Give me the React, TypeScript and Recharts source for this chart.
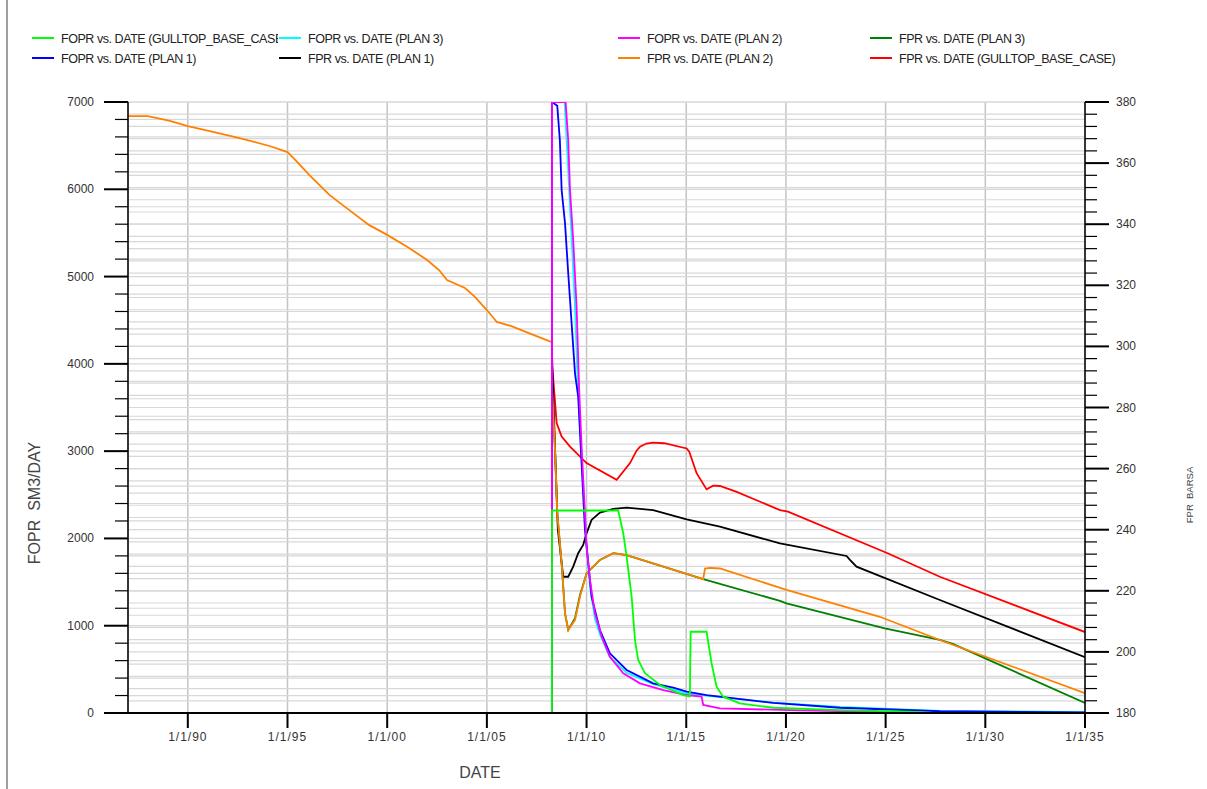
import React from 'react';
import { LineChart, Line, XAxis, YAxis, CartesianGrid } from 'recharts';

type Pt = [number, number];

// time in decimal years, FPR in BARSA (right axis), FOPR in SM3/DAY (left axis)
const X_TICKS = [1990, 1995, 2000, 2005, 2010, 2015, 2020, 2025, 2030, 2035];
const LEFT_TICKS = Array.from({ length: 36 }, (_, i) => i * 200);
const RIGHT_TICKS = Array.from({ length: 51 }, (_, i) => 180 + i * 4);

// history, same for every case up to the start of the forecast (only drawn once, orange on top in the plot)
const FPR_HISTORY: Pt[] = [
  [1987.0, 375.4], [1988.0, 375.4], [1989.1, 373.8], [1990.0, 372.1], [1991.1, 370.5],
  [1992.6, 368.2], [1994.1, 365.6], [1995.0, 363.6], [1995.4, 361.0], [1996.1, 356.1],
  [1997.1, 349.6], [1998.1, 344.6], [1999.1, 339.7], [2000.0, 336.5], [2001.1, 332.2],
  [2002.0, 328.3], [2002.6, 325.0], [2003.0, 321.7], [2003.9, 319.1], [2004.4, 316.2],
  [2005.0, 311.9], [2005.5, 308.0], [2006.2, 306.7], [2007.2, 304.1], [2008.26, 301.4],
];
const FORECAST_START: Pt = [2008.26, 301.4];

const FPR_BASE: Pt[] = [
  [2008.28, 293.5], [2008.5, 274.9], [2008.75, 270.5], [2009.17, 267.2], [2010.0, 261.8],
  [2011.51, 256.3], [2012.18, 261.8], [2012.5, 265.8], [2012.68, 267.2], [2013.0, 268.2],
  [2013.33, 268.5], [2013.9, 268.3], [2015.02, 266.6], [2015.15, 265.5], [2015.52, 258.5],
  [2016.02, 253.2], [2016.35, 254.4], [2016.69, 254.3], [2017.53, 252.4], [2019.7, 246.4],
  [2020.1, 245.9], [2025.1, 232.3], [2027.72, 224.6], [2035.0, 206.5],
];

const FPR_PLAN1: Pt[] = [
  [2008.28, 293.5], [2008.56, 240.0], [2008.83, 224.6], [2009.08, 224.6], [2009.33, 227.9],
  [2009.58, 232.3], [2009.83, 235.0], [2010.0, 238.8], [2010.25, 243.2], [2010.67, 245.6],
  [2011.34, 246.8], [2012.01, 247.2], [2013.34, 246.4], [2015.02, 243.4], [2016.69, 241.0],
  [2019.7, 235.5], [2023.04, 231.4], [2023.21, 230.1], [2023.54, 227.9], [2024.38, 225.7],
  [2027.72, 217.0], [2035.0, 198.3],
];

const FPR_PLAN2: Pt[] = [
  [2008.27, 285.7], [2008.41, 267.2], [2008.53, 245.4], [2008.75, 229.0], [2008.92, 212.6],
  [2009.08, 207.2], [2009.42, 210.4], [2009.67, 218.1], [2010.0, 225.7], [2010.67, 230.1],
  [2011.34, 232.3], [2012.01, 231.7], [2015.85, 223.8], [2015.94, 227.3], [2016.19, 227.5],
  [2016.69, 227.3], [2020.03, 220.3], [2024.71, 211.5], [2027.72, 203.9], [2035.0, 186.5],
];

const FPR_PLAN3: Pt[] = [
  [2008.27, 285.7], [2008.41, 267.2], [2008.53, 245.4], [2008.75, 229.0], [2008.92, 212.6],
  [2009.08, 207.2], [2009.42, 211.0], [2009.67, 218.6], [2010.0, 225.7], [2010.67, 230.1],
  [2011.34, 232.3], [2012.01, 231.7], [2015.85, 223.8], [2019.7, 216.7], [2020.03, 215.9],
  [2024.96, 207.7], [2027.72, 203.9], [2028.37, 202.6], [2035.0, 183.3],
];

const FOPR_BASE: Pt[] = [
  [1987.0, 0], [2008.26, 0], [2008.27, 2320], [2011.59, 2320], [2011.84, 2059],
  [2012.01, 1791], [2012.26, 1333], [2012.43, 836], [2012.59, 607], [2012.93, 455],
  [2013.68, 321], [2014.85, 206], [2015.18, 190], [2015.22, 931], [2016.02, 931],
  [2016.27, 569], [2016.52, 301], [2016.85, 187], [2017.69, 111], [2019.36, 60],
  [2022.71, 34], [2026.05, 15], [2027.5, 0], [2035.0, 0],
];

const FOPR_PLAN1: Pt[] = [
  [1987.0, 0], [2008.26, 0], [2008.27, 7000], [2008.53, 6958], [2008.66, 6565],
  [2008.75, 5992], [2008.92, 5610], [2009.08, 5038], [2009.25, 4465], [2009.42, 3892],
  [2009.58, 3624], [2009.75, 2861], [2009.92, 2097], [2010.09, 1715], [2010.25, 1333],
  [2010.67, 951], [2011.17, 684], [2012.01, 493], [2013.34, 340], [2014.35, 290],
  [2015.02, 245], [2016.02, 206], [2019.36, 115], [2022.71, 60], [2027.72, 20], [2035.0, 8],
];

const FOPR_PLAN2: Pt[] = [
  [1987.0, 0], [2008.26, 0], [2008.27, 7000], [2008.95, 7000], [2009.08, 6565],
  [2009.17, 5992], [2009.33, 5419], [2009.5, 4655], [2009.63, 3700], [2009.75, 3051],
  [2009.92, 2288], [2010.0, 1905], [2010.17, 1524], [2010.42, 1142], [2010.76, 874],
  [2011.17, 645], [2011.84, 455], [2012.68, 340], [2013.85, 263], [2015.02, 206],
  [2015.77, 187], [2015.85, 92], [2016.69, 54], [2020.7, 29], [2027.47, 0], [2035.0, 0],
];

const FOPR_PLAN3: Pt[] = [
  [1987.0, 0], [2008.26, 0], [2008.27, 7000], [2008.9, 7000], [2009.04, 6400],
  [2009.17, 5801], [2009.3, 5228], [2009.42, 4655], [2009.54, 3892], [2009.67, 3300],
  [2009.83, 2600], [2010.0, 1900], [2010.17, 1450], [2010.42, 1080], [2010.67, 900],
  [2011.17, 640], [2012.01, 460], [2013.34, 330], [2015.02, 225], [2016.02, 200],
  [2019.36, 120], [2022.71, 70], [2027.72, 25], [2035.0, 10],
];

const SERIES = [
  { key: 'fpr_base', label: 'FPR vs. DATE (GULLTOP_BASE_CASE)', color: '#ff0000', axis: 'right', pts: [FORECAST_START, ...FPR_BASE] },
  { key: 'fpr_p1', label: 'FPR vs. DATE (PLAN 1)', color: '#000000', axis: 'right', pts: [FORECAST_START, ...FPR_PLAN1] },
  { key: 'fpr_p3', label: 'FPR vs. DATE (PLAN 3)', color: '#008000', axis: 'right', pts: [FORECAST_START, ...FPR_PLAN3] },
  { key: 'fpr_p2', label: 'FPR vs. DATE (PLAN 2)', color: '#ff8000', axis: 'right', pts: [...FPR_HISTORY, ...FPR_PLAN2] },
  { key: 'fopr_p3', label: 'FOPR vs. DATE (PLAN 3)', color: '#00ffff', axis: 'left', pts: FOPR_PLAN3 },
  { key: 'fopr_p1', label: 'FOPR vs. DATE (PLAN 1)', color: '#0000ff', axis: 'left', pts: FOPR_PLAN1 },
  { key: 'fopr_p2', label: 'FOPR vs. DATE (PLAN 2)', color: '#ff00ff', axis: 'left', pts: FOPR_PLAN2 },
  { key: 'fopr_base', label: 'FOPR vs. DATE (GULLTOP_BASE_CASE)', color: '#00ff00', axis: 'left', pts: FOPR_BASE },
];

// legend reads in two rows, four columns
const LEGEND_ROWS = [
  ['fopr_base', 'fopr_p3', 'fopr_p2', 'fpr_p3'],
  ['fopr_p1', 'fpr_p1', 'fpr_p2', 'fpr_base'],
];
const LEGEND_COLS = [32, 279, 618, 870];

const FONT = '"Liberation Sans", Arial, sans-serif';

const fmtDate = (v: number) => `1/1/${String(v % 100).padStart(2, '0')}`;

const LeftTick = (props: any) => {
  const { x, y, payload } = props;
  const major = payload.value % 1000 === 0;
  return (
    <g>
      <line x1={x - (major ? 24 : 13)} x2={x} y1={y} y2={y} stroke="#000" strokeWidth={major ? 2 : 1.2} />
      {major && (
        <text x={x - 34} y={y + 4} textAnchor="end" fontSize={12} fontFamily={FONT} fill="#333">
          {payload.value}
        </text>
      )}
    </g>
  );
};

const RightTick = (props: any) => {
  const { x, y, payload } = props;
  const major = (payload.value - 180) % 20 === 0;
  return (
    <g>
      <line x1={x} x2={x + (major ? 24 : 12)} y1={y} y2={y} stroke="#000" strokeWidth={major ? 2 : 1.2} />
      {major && (
        <text x={x + 31} y={y + 4} textAnchor="start" fontSize={12} fontFamily={FONT} fill="#333">
          {payload.value}
        </text>
      )}
    </g>
  );
};

const DateTick = (props: any) => {
  const { x, y, payload } = props;
  return (
    <g>
      <line x1={x} x2={x} y1={y} y2={y + 15} stroke="#000" strokeWidth={2} />
      <text x={x} y={y + 28} textAnchor="middle" fontSize={12} fontFamily={FONT} fill="#333" letterSpacing={1}>
        {fmtDate(payload.value)}
      </text>
    </g>
  );
};

function Overlay() {
  const byKey: Record<string, (typeof SERIES)[number]> = {};
  SERIES.forEach((s) => { byKey[s.key] = s; });
  return (
    <svg width={1207} height={789} style={{ position: 'absolute', left: 0, top: 0, pointerEvents: 'none' }}>
      <line x1={7} x2={7} y1={0} y2={789} stroke="#a0a0a0" strokeWidth={2} />
      {LEGEND_ROWS.map((row, r) =>
        row.map((k, c) => {
          const s = byKey[k];
          const x0 = LEGEND_COLS[c];
          const y0 = 38 + r * 20;
          const w = c < 3 ? LEGEND_COLS[c + 1] - x0 - 1 : 330;
          return (
            <svg key={k} x={x0} y={y0 - 10} width={w} height={20} overflow="hidden">
              <line x1={0} x2={22} y1={10} y2={10} stroke={s.color} strokeWidth={2} />
              <text x={29} y={14.5} fontSize={12.5} letterSpacing={-0.45} fontFamily={FONT} fill="#222">{s.label}</text>
            </svg>
          );
        })
      )}
      <text transform="translate(40,503) rotate(-90)" textAnchor="middle" fontSize={16} fontFamily={FONT} fill="#444" xmlSpace="preserve">
        FOPR  SM3/DAY
      </text>
      <text transform="translate(1193,495) rotate(-90)" textAnchor="middle" fontSize={9.5} fontFamily={FONT} fill="#444" xmlSpace="preserve">
        FPR  BARSA
      </text>
      <text x={480} y={778} textAnchor="middle" fontSize={16} fontFamily={FONT} fill="#444">DATE</text>
    </svg>
  );
}

export default function App() {
  return (
    <div style={{ position: 'absolute', left: 0, top: 0, width: 1207, height: 789, background: '#fff' }}>
      <LineChart width={1207} height={789} margin={{ top: 102, right: 62, bottom: 36, left: 68 }}>
        <CartesianGrid yAxisId="left" horizontal={false} stroke="#c4c4c4" strokeWidth={1.5} />
        <CartesianGrid yAxisId="left" vertical={false} stroke="#d8d8d8" strokeWidth={1.2} />
        <CartesianGrid yAxisId="right" vertical={false} stroke="#d8d8d8" strokeWidth={1.2} />
        <XAxis
          dataKey="t"
          type="number"
          domain={[1987, 2035]}
          ticks={X_TICKS}
          allowDataOverflow
          height={40}
          tickSize={0}
          tickMargin={0}
          tickLine={false}
          axisLine={{ stroke: '#000', strokeWidth: 2 }}
          tick={(p: any) => <DateTick {...p} />}
          interval={0}
        />
        <YAxis
          yAxisId="left"
          orientation="left"
          type="number"
          domain={[0, 7000]}
          ticks={LEFT_TICKS}
          allowDataOverflow
          width={60}
          tickSize={0}
          tickMargin={0}
          tickLine={false}
          axisLine={{ stroke: '#000', strokeWidth: 1.5 }}
          tick={(p: any) => <LeftTick {...p} />}
          interval={0}
        />
        <YAxis
          yAxisId="right"
          orientation="right"
          type="number"
          domain={[180, 380]}
          ticks={RIGHT_TICKS}
          allowDataOverflow
          width={60}
          tickSize={0}
          tickMargin={0}
          tickLine={false}
          axisLine={{ stroke: '#000', strokeWidth: 1.5 }}
          tick={(p: any) => <RightTick {...p} />}
          interval={0}
        />
        {SERIES.map((s) => (
          <Line
            key={s.key}
            yAxisId={s.axis}
            data={s.pts.map(([t, v]) => ({ t, v }))}
            dataKey="v"
            type="linear"
            stroke={s.color}
            strokeWidth={1.8}
            dot={false}
            activeDot={false}
            isAnimationActive={false}
          />
        ))}
      </LineChart>
      <Overlay />
    </div>
  );
}
